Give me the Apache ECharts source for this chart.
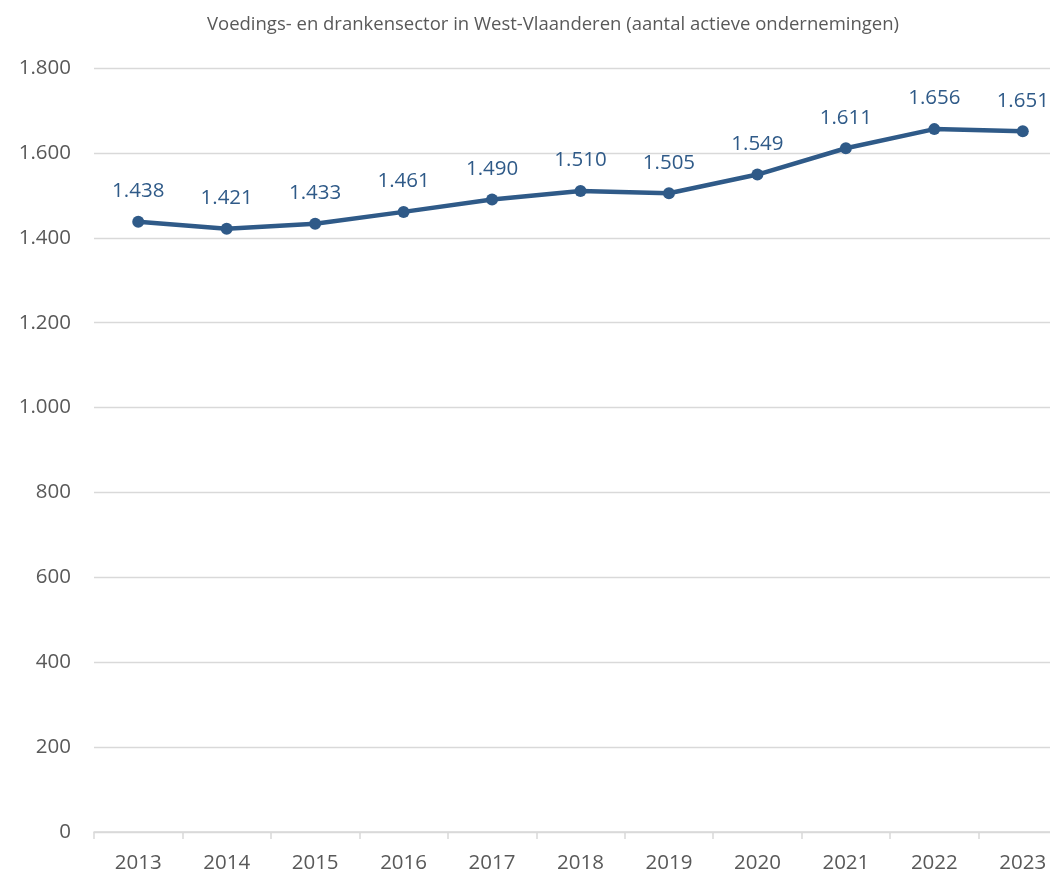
<!DOCTYPE html>
<html><head><meta charset="utf-8">
<script src="https://cdn.jsdelivr.net/npm/echarts@6/dist/echarts.min.js"></script>
<style>html,body{margin:0;padding:0;background:#fff;overflow:hidden}#c{width:1067px;height:874px}</style>
</head><body><div id="c"></div>
<script>
const titleText = 'Voedings- en drankensector in West-Vlaanderen (aantal actieve ondernemingen)';
const years = ['2013','2014','2015','2016','2017','2018','2019','2020','2021','2022','2023'];
const values = [1438,1421,1433,1461,1490,1510,1505,1549,1611,1656,1651];
const fmt = v => String(v).replace(/\B(?=(\d{3})+(?!\d))/g, '.');
const chart = echarts.init(document.getElementById('c'));
chart.setOption({
  animation:false,
  title:{text:titleText,left:548,textAlign:'center',top:10,
    textStyle:{fontFamily:'Open Sans',fontSize:18.5,fontWeight:'normal',color:'#595959'}},
  grid:{left:94,top:68,right:0,bottom:41,containLabel:false},
  xAxis:{type:'category',data:years,boundaryGap:true,
    axisLine:{lineStyle:{color:'#d9d9d9',width:1.5}},
    axisTick:{show:true,length:7,lineStyle:{color:'#d9d9d9',width:1.5}},
    axisLabel:{color:'#595959',fontFamily:'Open Sans',fontSize:20.5,margin:21}},
  yAxis:{type:'value',min:0,max:1800,interval:200,
    axisLine:{show:false},axisTick:{show:false},
    splitLine:{lineStyle:{color:'#d9d9d9',width:1.3}},
    axisLabel:{color:'#595959',fontFamily:'Open Sans',fontSize:20.5,margin:23,formatter:fmt}},
  series:[{type:'line',data:values,symbol:'circle',symbolSize:12,
    lineStyle:{color:'#2F5A88',width:4.5},itemStyle:{color:'#2F5A88'},
    label:{show:true,position:'top',distance:14,color:'#2F5A88',fontFamily:'Open Sans',fontSize:20.5,formatter:p=>fmt(p.value)}}]
});
</script></body></html>
